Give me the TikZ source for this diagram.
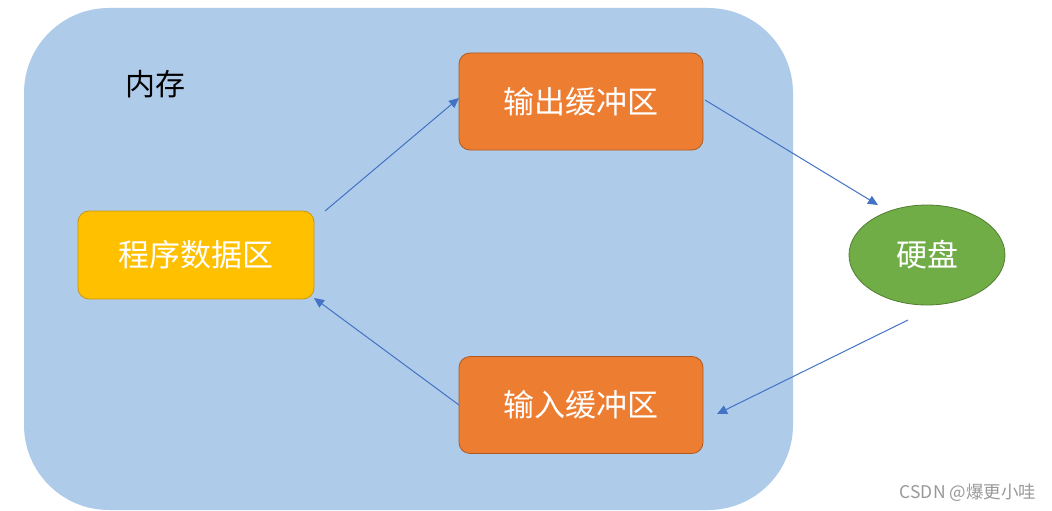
\documentclass[tikz,border=0pt]{standalone}
\usepackage{fontspec}
\setmainfont{Noto Sans CJK SC}
\usetikzlibrary{shapes.geometric,arrows.meta}
\definecolor{memblue}{RGB}{174,203,234}
\definecolor{progy}{RGB}{255,192,0}
\definecolor{progyb}{RGB}{200,150,20}
\definecolor{buforg}{RGB}{237,125,49}
\definecolor{buforgb}{RGB}{174,90,33}
\definecolor{diskg}{RGB}{112,173,71}
\definecolor{diskgb}{RGB}{80,126,50}
\definecolor{arrb}{RGB}{68,114,196}
\tikzset{
  boxstyle/.style={draw, line width=0.8pt, rounded corners=11pt, inner sep=0pt, text=white, font=\fontsize{31}{34}\selectfont},
  progbox/.style={boxstyle, fill=progy, draw=progyb, minimum width=236pt, minimum height=88pt},
  bufbox/.style={boxstyle, fill=buforg, draw=buforgb, minimum width=244pt, minimum height=97pt},
  diskstyle/.style={ellipse, draw=diskgb, line width=0.8pt, fill=diskg, minimum width=156pt, minimum height=100pt, inner sep=0pt, text=white, font=\fontsize{31}{34}\selectfont},
  flow/.style={draw=arrb, line width=1pt, -{Triangle[length=10pt,width=9pt]}}
}
\begin{document}
\begin{tikzpicture}[x=1pt,y=-1pt]
\useasboundingbox (0,0) rectangle (1052,511);
\fill[white] (0,0) rectangle (1052,511);
\fill[memblue, rounded corners=85pt] (24,8) rectangle (793,510);
\node[font=\fontsize{30}{34}\selectfont] (mem) at (155,84) {内存};
\node[progbox] (prog) at (196,255) {程序数据区};
\node[bufbox] (out) at (581,101.5) {输出缓冲区};
\node[bufbox] (in) at (581,405) {输入缓冲区};
\node[diskstyle] (disk) at (927,255) {硬盘};
\coordinate (a1s) at (325,211);
\coordinate (a1e) at (459,98);
\coordinate (a2s) at (705,100);
\coordinate (a2e) at (878,205);
\coordinate (a3s) at (908,320);
\coordinate (a3e) at (717,414);
\coordinate (a4s) at (459,405);
\coordinate (a4e) at (314,298);
\draw[flow] (a1s) -- (a1e);
\draw[flow] (a2s) -- (a2e);
\draw[flow] (a3s) -- (a3e);
\draw[flow] (a4s) -- (a4e);
\node[text=gray!80, font=\fontsize{17.5}{20}\selectfont] (wm) at (968,493) {CSDN @爆更小哇};
\end{tikzpicture}
\end{document}
